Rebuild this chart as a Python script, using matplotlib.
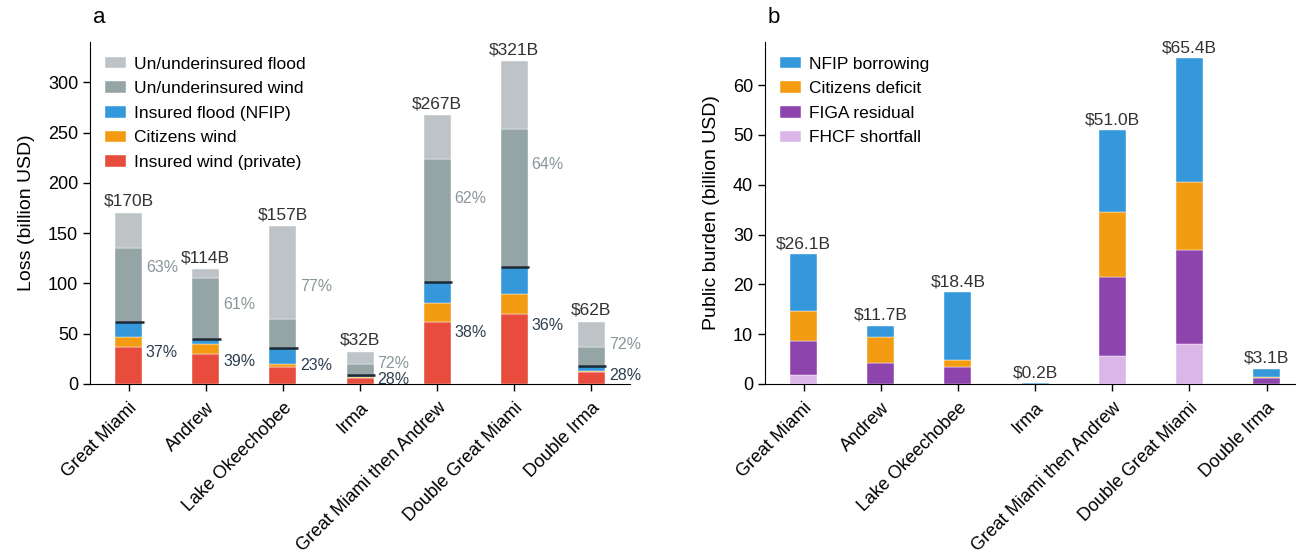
import matplotlib
matplotlib.use("Agg")
import matplotlib.pyplot as plt
import numpy as np

plt.rcParams['font.family'] = ['Liberation Sans', 'DejaVu Sans']

scenarios = ["Great Miami", "Andrew", "Lake Okeechobee", "Irma",
             "Great Miami then Andrew", "Double Great Miami", "Double Irma"]

# Panel a: losses (billion USD)
insured_wind_private = [37, 30, 17, 6, 62, 70, 11.5]
citizens_wind = [10, 10, 3, 1, 19, 19, 1.5]
insured_flood_nfip = [15, 4.5, 16, 2, 20.5, 27, 4.5]
uninsured_wind = [73, 60.5, 29, 10.5, 122, 138, 19.5]
uninsured_flood = [35, 9, 92, 12.5, 43.5, 67, 25]
total_labels_a = ["$170B", "$114B", "$157B", "$32B", "$267B", "$321B", "$62B"]
insured_pct = ["37%", "39%", "23%", "28%", "38%", "36%", "28%"]
uninsured_pct = ["63%", "61%", "77%", "72%", "62%", "64%", "72%"]

# Panel b: public burden (billion USD)
fhcf_shortfall = [1.9, 0, 0, 0, 5.7, 8.1, 0]
figa_residual = [6.8, 4.3, 3.5, 0, 15.8, 18.9, 1.3]
citizens_deficit = [5.9, 5.2, 1.4, 0, 13.0, 13.6, 0.2]
nfip_borrowing = [11.5, 2.2, 13.5, 0.2, 16.5, 24.8, 1.6]
total_labels_b = ["$26.1B", "$11.7B", "$18.4B", "$0.2B", "$51.0B", "$65.4B", "$3.1B"]

C_RED = "#e74c3c"
C_ORANGE = "#f39c12"
C_BLUE = "#3498db"
C_DGREY = "#95a5a6"
C_LGREY = "#bdc3c7"
C_PURPLE = "#8e44ad"
C_LPURPLE = "#dbb7e9"
C_TEXT = "#333333"
C_NAVY = "#2c3e50"
C_PCTGREY = "#8a9799"

fig = plt.figure(figsize=(12.96, 5.54), dpi=100)
W, H = 1296, 554
axa = fig.add_axes([90 / W, 170 / H, 540 / W, 342 / H])
axb = fig.add_axes([765 / W, 170 / H, 531 / W, 342 / H])

x = np.arange(len(scenarios))
bw = 0.35
ekw = dict(edgecolor="white", linewidth=0.3)
LEG = dict(loc="upper left", frameon=False, fontsize=12.5, handlelength=1.25,
           handleheight=0.65, handletextpad=0.45, labelspacing=0.55,
           bbox_to_anchor=(0.0, 1.0), borderaxespad=0.45)

# ---- Panel a
layers_a = [
    (insured_wind_private, C_RED, "Insured wind (private)"),
    (citizens_wind, C_ORANGE, "Citizens wind"),
    (insured_flood_nfip, C_BLUE, "Insured flood (NFIP)"),
    (uninsured_wind, C_DGREY, "Un/underinsured wind"),
    (uninsured_flood, C_LGREY, "Un/underinsured flood"),
]
bottom = np.zeros(len(x))
handles = []
for vals, col, lab in layers_a:
    v = np.array(vals, dtype=float)
    h = axa.bar(x, v, bw, bottom=bottom, color=col, label=lab, **ekw)
    handles.append(h)
    bottom = bottom + v
totals_a = bottom
insured = np.array(insured_wind_private) + np.array(citizens_wind) + np.array(insured_flood_nfip)

for i in range(len(x)):
    axa.hlines(insured[i], x[i] - bw / 2, x[i] + bw / 2 + 0.02, color="#1c2833", linewidth=1.8, zorder=4)
    axa.text(x[i], totals_a[i] + 4, total_labels_a[i], ha="center", va="bottom",
             fontsize=12.5, color=C_TEXT)
    axa.text(x[i] + bw / 2 + 0.05, insured[i] / 2, insured_pct[i], ha="left", va="center",
             fontsize=11.5, color=C_NAVY)
    axa.text(x[i] + bw / 2 + 0.05, (insured[i] + totals_a[i]) / 2, uninsured_pct[i],
             ha="left", va="center", fontsize=11.5, color=C_PCTGREY)

axa.set_xlim(-0.5, 6.5)
axa.set_ylim(0, 340)
axa.set_yticks([0, 50, 100, 150, 200, 250, 300])
axa.set_ylabel("Loss (billion USD)", fontsize=14, labelpad=9)
axa.legend(handles[::-1], [h.get_label() for h in handles[::-1]], **LEG)
axa.text(0.005, 1.04, "a", transform=axa.transAxes, fontsize=16, ha="left", va="bottom")

# ---- Panel b
layers_b = [
    (fhcf_shortfall, C_LPURPLE, "FHCF shortfall"),
    (figa_residual, C_PURPLE, "FIGA residual"),
    (citizens_deficit, C_ORANGE, "Citizens deficit"),
    (nfip_borrowing, C_BLUE, "NFIP borrowing"),
]
bottom = np.zeros(len(x))
handles_b = []
for vals, col, lab in layers_b:
    v = np.array(vals, dtype=float)
    h = axb.bar(x, v, bw, bottom=bottom, color=col, label=lab, **ekw)
    handles_b.append(h)
    bottom = bottom + v
totals_b = bottom
for i in range(len(x)):
    axb.text(x[i], totals_b[i] + 0.6, total_labels_b[i], ha="center", va="bottom",
             fontsize=12.5, color=C_TEXT)

axb.set_xlim(-0.5, 6.38)
axb.set_ylim(0, 68.67)
axb.set_yticks([0, 10, 20, 30, 40, 50, 60])
axb.set_ylabel("Public burden (billion USD)", fontsize=14, labelpad=9)
axb.legend(handles_b[::-1], [h.get_label() for h in handles_b[::-1]], **LEG)
axb.text(0.005, 1.04, "b", transform=axb.transAxes, fontsize=16, ha="left", va="bottom")

for ax in (axa, axb):
    ax.spines["top"].set_visible(False)
    ax.spines["right"].set_visible(False)
    ax.set_xticks(x)
    ax.set_xticklabels(scenarios, rotation=45, ha="right", rotation_mode="anchor", fontsize=13)
    ax.tick_params(axis="both", labelsize=13, length=5, width=1)
    ax.tick_params(axis="x", pad=6)

fig.savefig("out.png", dpi=100)
